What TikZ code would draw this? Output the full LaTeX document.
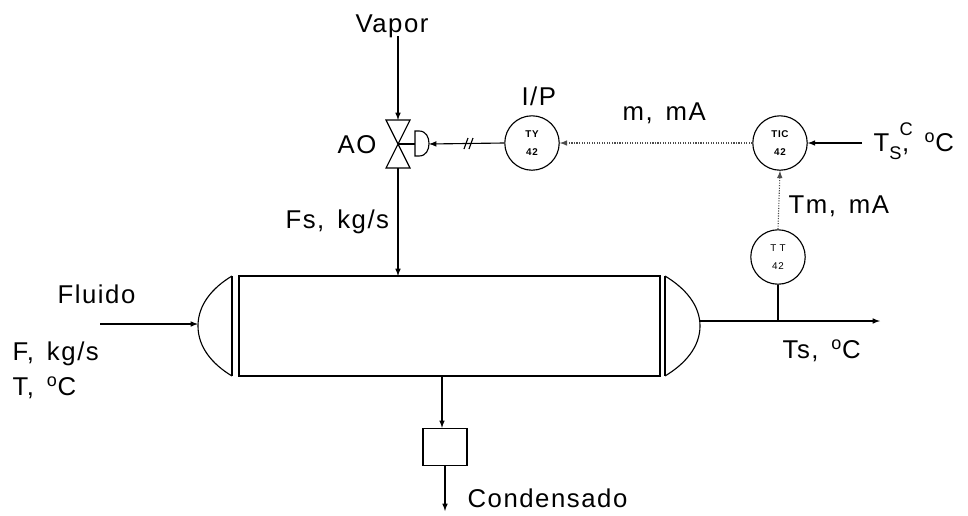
\documentclass[tikz,border=0pt]{standalone}
\usepackage{fontspec}
\setmainfont{Liberation Sans}[LetterSpace=6]
\usetikzlibrary{arrows}
\newcommand{\csp}{,\hspace{0.5em}}

\begin{document}
\begin{tikzpicture}[x=0.025cm, y=-0.025cm, >=latex, line width=0.8pt,
  font=\fontsize{18.3}{21}\selectfont,
  inst/.style={draw, circle, minimum size=1.36cm, inner sep=0pt, align=center,
    font=\fontsize{7}{8}\selectfont\bfseries},
  sig/.style={densely dotted, gray!60!black},
  lbl/.style={anchor=base west, inner sep=0pt}]
\useasboundingbox (0,0) rectangle (968,515);

% vessel
\draw (239,276) rectangle (660,376);
\draw (232,276) -- (232,376); \draw (665,276) -- (665,376);
\draw (232,276) .. controls (212,288) and (198,305) .. (198,326) .. controls (198,347) and (212,364) .. (232,376);
\draw (665,276) .. controls (685,288) and (700,305) .. (700,326) .. controls (700,347) and (685,364) .. (665,376);

% valve and actuator
\draw (386,120) -- (410,120) -- (386,168) -- (410,168) -- cycle;
\draw (398,144) -- (415,144);
\draw (415,131) -- (419,131) .. controls (426,131) and (429,137) .. (429,143.5) .. controls (429,150) and (426,156) .. (419,156) -- (415,156) -- cycle;

\coordinate (vap) at (398,36);   \coordinate (vtop) at (398,120);
\coordinate (vbot) at (398,168); \coordinate (shell) at (398,276);
\coordinate (act) at (429,144);
\coordinate (fin) at (100,324);  \coordinate (hin) at (198,324);
\coordinate (hout) at (700,321); \coordinate (pout) at (880,321);
\coordinate (tap) at (778,321);  \coordinate (sp) at (862,143);
\coordinate (drain) at (442,376); \coordinate (cout) at (445,511);

\node [inst] (ty) at (532,143) {TY\\[5pt]42};
\node [inst] (tic) at (780,143) {TIC\\[5pt]42};
\node [inst, font=\fontsize{7}{8}\selectfont] (tt) at (778,257) {T T\\[5pt]42};
\node [draw, minimum width=1.1cm, minimum height=0.93cm, inner sep=0pt] (trap) at (445,447) {};

\draw [->] (vap) -- (vtop);
\draw [->] (vbot) -- (shell);
\draw [->] (fin) -- (hin);
\draw [->] (hout) -- (pout);
\draw (tt.south) -- (tap);
\draw [->] (drain) -- (drain |- trap.north);
\draw [->] (trap.south) -- (cout);
\draw [->] (ty.west) -- (act);
\draw (464,149) -- (468,138); \draw (469,149) -- (473,138);
\draw [sig,->] (tic.west) -- (ty.east);
\draw [sig,->] (tt.north) -- (tic.south);
\draw [->] (sp) -- (tic.east);

\node [lbl] (vapor) at (355,32) {Vapor};
\node [lbl] (ao) at (337,153) {AO};
\node [lbl] (fs) at (285,228) {Fs\csp kg/s};
\node [lbl] (ip) at (521,105) {I/P};
\node [lbl] (m) at (622,120) {m\csp mA};
\node [lbl] (tm) at (788,213) {Tm\csp mA};
\node [lbl] (ts) at (782,358) {Ts\csp\textsuperscript{o}C};
\node [lbl] (tsc) at (873,151) {T\rlap{\raisebox{-0.32em}{\fontsize{13}{13}\selectfont S}}\rlap{\hspace{0.4em}\raisebox{0.62em}{\fontsize{13}{13}\selectfont C}}\hspace{0.5em},\hspace{0.6em}\textsuperscript{o}C};
\node [lbl] (fluido) at (57,303) {Fluido};
\node [lbl] (fkg) at (12,360) {F\csp kg/s};
\node [lbl] (tdeg) at (12,395) {T\csp\textsuperscript{o}C};
\node [lbl] (cond) at (467,507) {Condensado};
\end{tikzpicture}
\end{document}
